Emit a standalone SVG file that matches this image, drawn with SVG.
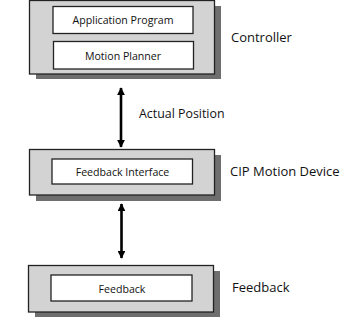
<svg xmlns="http://www.w3.org/2000/svg" width="356" height="318" viewBox="0 0 356 318">
<defs>
<style>
.shadow{fill:#6e6e6e}
.outer{fill:#d3d3d3;stroke:#222;stroke-width:1.3}
.inner{fill:#fff;stroke:#222;stroke-width:1.3}
.t{font-family:"Open Sans","Liberation Sans",sans-serif;fill:#111}
.s{font-size:10.6px}
.l{font-size:13px}
.m{font-size:12.4px}
.c{stroke:#000;stroke-width:2.6}
</style>
<marker id="ah" viewBox="0 0 10 10" refX="9" refY="5" markerWidth="3" markerHeight="3" markerUnits="strokeWidth" orient="auto-start-reverse">
<path d="M0,0 L10,5 L0,10 z" fill="#000"/>
</marker>
</defs>
<rect width="356" height="318" fill="#fff"/>
<g id="controller">
<rect class="shadow" x="36" y="6" width="185" height="73"/>
<rect class="outer" x="29.5" y="0.5" width="185" height="73.5"/>
<text class="t l" x="231" y="42">Controller</text>
</g>
<g id="application-program">
<rect class="inner" x="53" y="6.5" width="140" height="27"/>
<text class="t s" x="123" y="24" text-anchor="middle">Application Program</text>
</g>
<g id="motion-planner">
<rect class="inner" x="53.5" y="41.5" width="140" height="27.5"/>
<text class="t s" x="123" y="59.5" text-anchor="middle">Motion Planner</text>
</g>
<g id="cip-motion-device">
<rect class="shadow" x="36" y="155" width="185" height="46"/>
<rect class="outer" x="29.5" y="149.5" width="185" height="45.5"/>
<text class="t l" x="230" y="176">CIP Motion Device</text>
</g>
<g id="feedback-interface">
<rect class="inner" x="52" y="159" width="140.5" height="25"/>
<text class="t s" x="122.5" y="175.5" text-anchor="middle">Feedback Interface</text>
</g>
<g id="feedback-device">
<rect class="shadow" x="35" y="271" width="185" height="46"/>
<rect class="outer" x="28.5" y="265.5" width="185" height="46.5"/>
<text class="t l" x="232" y="292">Feedback</text>
</g>
<g id="feedback">
<rect class="inner" x="51" y="275" width="141" height="26"/>
<text class="t s" x="122" y="293" text-anchor="middle">Feedback</text>
</g>
<g id="connectors">
<line class="c" x1="121" y1="88" x2="121" y2="147" marker-start="url(#ah)" marker-end="url(#ah)"/>
<text class="t m" x="139" y="118">Actual Position</text>
<line class="c" x1="121.5" y1="204" x2="121.5" y2="258" marker-start="url(#ah)" marker-end="url(#ah)"/>
</g>
</svg>
